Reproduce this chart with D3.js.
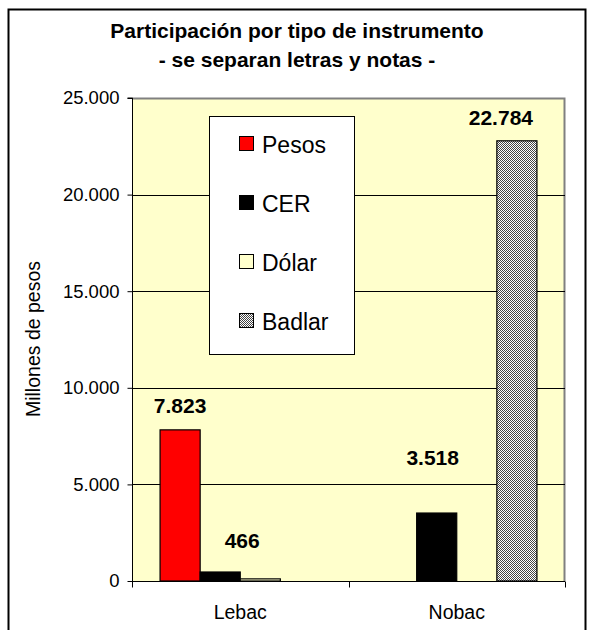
<!DOCTYPE html>
<html>
<head>
<meta charset="utf-8">
<script src="https://cdn.jsdelivr.net/npm/d3@7"></script>
<style>
  html, body { margin: 0; padding: 0; background: #ffffff; }
  svg { display: block; }
  text { font-family: "Liberation Sans", Arial, sans-serif; }
</style>
</head>
<body>
<svg id="chart" width="592" height="630"></svg>
<script>
// ---- data ----
const categories = ["Lebac", "Nobac"];
const seriesNames = ["Pesos", "CER", "Dólar", "Badlar"];
const pesos  = [7823, 0];
const cer    = [466, 3518];
const dolar  = [110, 0];
const badlar = [0, 22784];
const yTicks = [0, 5000, 10000, 15000, 20000, 25000];
const titleLines = ["Participación por tipo de instrumento", "- se separan letras y notas -"];
const yTitle = "Millones de pesos";
// which bars carry a value label
const labelled = [
  {series: "Pesos", cat: "Lebac"},
  {series: "CER", cat: "Lebac"},
  {series: "CER", cat: "Nobac"},
  {series: "Badlar", cat: "Nobac"}
];

const seriesValues = {Pesos: pesos, CER: cer, "Dólar": dolar, Badlar: badlar};

// ---- layout ----
const svg = d3.select("#chart");
const plot = {left: 132, right: 565, top: 98, bottom: 581};

const locale = d3.formatLocale({decimal: ",", thousands: ".", grouping: [3], currency: ["$", ""]});
const fmt = locale.format(",d");

const x0 = d3.scaleBand().domain(categories).range([plot.left, plot.right]).paddingInner(0).paddingOuter(0);
const x1 = d3.scaleBand().domain(seriesNames).range([0, x0.bandwidth()]).paddingInner(0).paddingOuter(0.7);
const y = d3.scaleLinear().domain([0, 25000]).range([plot.bottom, plot.top]);

// pattern for Badlar
const defs = svg.append("defs");
const pat = defs.append("pattern").attr("id", "checker").attr("patternUnits", "userSpaceOnUse")
  .attr("width", 2).attr("height", 2);
pat.append("rect").attr("width", 2).attr("height", 2).attr("fill", "#ffffff");
pat.append("rect").attr("x", 0).attr("y", 0).attr("width", 1).attr("height", 1).attr("fill", "#444444");
pat.append("rect").attr("x", 1).attr("y", 1).attr("width", 1).attr("height", 1).attr("fill", "#444444");

const colors = {Pesos: "#ff0000", CER: "#000000", "Dólar": "#ffffcc", Badlar: "url(#checker)"};

// outer frame
svg.append("rect").attr("x", 8.5).attr("y", 9.5).attr("width", 577).attr("height", 640)
  .attr("fill", "#ffffff").attr("stroke", "#000000").attr("stroke-width", 2);

// title
svg.append("g").selectAll("text").data(titleLines).join("text")
  .attr("x", 297).attr("y", (d, i) => 38 + i * 29)
  .attr("text-anchor", "middle").attr("font-weight", "bold").attr("font-size", 21)
  .attr("fill", "#000").text(d => d);

// plot background
svg.append("rect").attr("x", plot.left).attr("y", plot.top)
  .attr("width", plot.right - plot.left).attr("height", plot.bottom - plot.top)
  .attr("fill", "#ffffcc");
// plot border top/right gray
svg.append("path")
  .attr("d", `M${plot.left},${plot.top + 0.5}H${plot.right - 0.5}V${plot.bottom}`)
  .attr("fill", "none").attr("stroke", "#808080").attr("stroke-width", 2);

// gridlines
svg.append("g").selectAll("line").data(yTicks.filter(t => t > 0 && t < 25000)).join("line")
  .attr("x1", plot.left).attr("x2", plot.right)
  .attr("y1", d => Math.round(y(d)) + 0.5).attr("y2", d => Math.round(y(d)) + 0.5)
  .attr("stroke", "#000").attr("stroke-width", 1);

// bars
const barData = [];
categories.forEach((c, ci) => seriesNames.forEach(s => barData.push({cat: c, series: s, value: seriesValues[s][ci]})));
svg.append("g").selectAll("rect").data(barData.filter(d => d.value > 0)).join("rect")
  .attr("x", d => x0(d.cat) + x1(d.series))
  .attr("y", d => y(d.value))
  .attr("width", x1.bandwidth())
  .attr("height", d => y(0) - y(d.value))
  .attr("fill", d => colors[d.series])
  .attr("stroke", "#000").attr("stroke-width", 1.2);

// legend
const lg = svg.append("g");
lg.append("rect").attr("x", 209.5).attr("y", 116.5).attr("width", 145).attr("height", 238)
  .attr("fill", "#ffffff").attr("stroke", "#000").attr("stroke-width", 1);
const li = lg.selectAll("g.item").data(seriesNames).join("g").attr("class", "item")
  .attr("transform", (d, i) => `translate(239, ${144 + i * 59})`);
li.append("rect").attr("x", 0.5).attr("y", -7.5).attr("width", 14).attr("height", 14)
  .attr("fill", d => colors[d]).attr("stroke", "#000").attr("stroke-width", 1);
li.append("text").attr("x", 23).attr("y", 8.5).attr("font-size", 23).attr("fill", "#000").text(d => d);

// y axis
const yAxis = d3.axisLeft(y).tickValues(yTicks).tickFormat(d => fmt(d)).tickSize(5).tickPadding(8);
const ya = svg.append("g").attr("transform", `translate(${plot.left + 0.5},0)`).call(yAxis);
ya.select(".domain").attr("stroke", "#000").attr("d", `M-5,${plot.top}H0V${plot.bottom}`);
ya.selectAll(".tick line").attr("stroke", "#000");
ya.selectAll(".tick text").attr("font-size", 18.5).attr("font-family", "Liberation Sans, Arial, sans-serif").attr("fill", "#000");

// x axis
const xa = svg.append("g").attr("transform", `translate(0,${plot.bottom + 0.5})`);
xa.append("line").attr("x1", plot.left).attr("x2", plot.right).attr("stroke", "#000");
const xt = [plot.left, ...categories.map(c => x0(c) + x0.bandwidth())];
xa.selectAll("line.tk").data(xt).join("line").attr("class", "tk")
  .attr("x1", d => Math.round(d) + 0.5).attr("x2", d => Math.round(d) + 0.5).attr("y1", 0).attr("y2", 6)
  .attr("stroke", "#000");
xa.selectAll("text").data(categories).join("text")
  .attr("x", d => x0(d) + x0.bandwidth() / 2).attr("y", 37)
  .attr("text-anchor", "middle").attr("font-size", 19.5).attr("fill", "#000").text(d => d);

// y title
svg.append("text").attr("transform", "translate(40,339) rotate(-90)")
  .attr("text-anchor", "middle").attr("font-size", 19.5).attr("fill", "#000").text(yTitle);

// value labels (Excel's manually moved label positions)
const labelShift = {"Pesos|Lebac": [0, 17], "CER|Lebac": [22, 24], "CER|Nobac": [-4, 48], "Badlar|Nobac": [-16, 16]};
svg.append("g").selectAll("text").data(labelled).join("text")
  .attr("x", d => x0(d.cat) + x1(d.series) + x1.bandwidth() / 2 + labelShift[d.series + "|" + d.cat][0])
  .attr("y", d => y(seriesValues[d.series][categories.indexOf(d.cat)]) - labelShift[d.series + "|" + d.cat][1])
  .attr("text-anchor", "middle").attr("font-weight", "bold").attr("font-size", 21).attr("fill", "#000")
  .text(d => fmt(seriesValues[d.series][categories.indexOf(d.cat)]));
</script>
</body>
</html>
